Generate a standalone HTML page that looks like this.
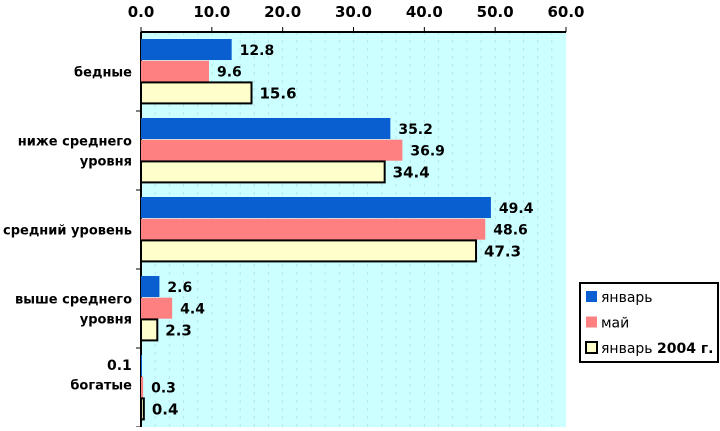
<!DOCTYPE html>
<html><head><meta charset="utf-8"><style>
body{margin:0;background:#fff;width:720px;height:427px;overflow:hidden;font-family:"DejaVu Sans","Liberation Sans",sans-serif}
text{font-family:"DejaVu Sans","Liberation Sans",sans-serif}
</style></head><body>
<svg id="c" width="720" height="427"></svg>
<script>
const categories=[["бедные"],["ниже среднего","уровня"],["средний уровень"],["выше среднего","уровня"],["богатые"]];
const seriesNames=["январь","май","январь 2004 г."];
const jan=[12.8,35.2,49.4,2.6,0.1];
const may=[9.6,36.9,48.6,4.4,0.3];
const jan2004=[15.6,34.4,47.3,2.3,0.4];
const ticks=[0,10,20,30,40,50,60];
const colors=["#0a5fd0","#ff8080","#ffffcc"];
const NS="http://www.w3.org/2000/svg";
const svg=document.getElementById('c');
const x0=141,x1=566,y0=32,y1=427;
const xs=v=>x0+(v/60)*(x1-x0);
const catH=(y1-y0)/categories.length;
function mk(t,a,p){const e=document.createElementNS(NS,t);for(const k in a)e.setAttribute(k,a[k]);(p||svg).appendChild(e);return e;}
const bg=mk('rect',{x:x0,y:y0,width:x1-x0,height:y1-y0,fill:'#ccffff'});


for(let v=2;v<60;v+=2){const g=mk('line',{x1:xs(v),x2:xs(v),y1:y0,y2:y1,stroke:'#b8e4ea','stroke-dasharray':'3,5','stroke-width':1});

}
mk('line',{x1:x0,x2:x1,y1:y0,y2:y0,stroke:'#000','stroke-width':2});
mk('line',{x1:x0,x2:x0,y1:y0,y2:y1,stroke:'#000','stroke-width':2});
ticks.forEach(t=>{mk('line',{x1:xs(t),x2:xs(t),y1:y0-5,y2:y0,stroke:'#000'});
const tx=mk('text',{x:xs(t),y:17,'text-anchor':'middle','font-size':15,'font-weight':'bold'});tx.textContent=t.toFixed(1);

});
const data=[jan,may,jan2004];
categories.forEach((c,i)=>{
 const cy=y0+catH*i;
 mk('line',{x1:x0-5,x2:x0,y1:cy+catH,y2:cy+catH,stroke:'#000'});
 const lines=c.length;
 const off=(i==categories.length-1)?-3:0;
 c.forEach((l,j)=>{const t=mk('text',{x:132,y:cy+catH/2+5+off+(j-(lines-1)/2)*20,'text-anchor':'end','font-size':13,'font-weight':'bold'});t.textContent=l;
 
 });
 data.forEach((s,k)=>{
  const by=cy+7+k*21.7;
  const r=mk('rect',{x:x0,y:by,width:Math.max(xs(s[i])-x0,1),height:21,fill:colors[k],stroke:k==2?'#000':'none','stroke-width':k==2?2:0});
  
  
  let lx=xs(s[i])+8, ly=by+16;
  if(s[i]<0.2){lx=107;ly=by+15;}
  const t=mk('text',{x:lx,y:ly,'font-size':k==2?15:14,'font-weight':'bold'});t.textContent=s[i].toFixed(1);
  
  
 });
});
const lg=mk('g',{});


mk('rect',{x:580,y:283,width:138,height:79,fill:'#fff',stroke:'#000','stroke-width':2},lg);
seriesNames.forEach((n,k)=>{const y=297+k*25.5;
 mk('rect',{x:586,y:y-6,width:11,height:11,fill:colors[k],stroke:k==2?'#000':'none','stroke-width':2},lg);
 const t=mk('text',{x:601,y:y+5,'font-size':14},lg);
 if(k==2){t.innerHTML='январь <tspan font-weight="bold">2004 г.</tspan>';}else t.textContent=n;
 
 
});
</script>
</body></html>
